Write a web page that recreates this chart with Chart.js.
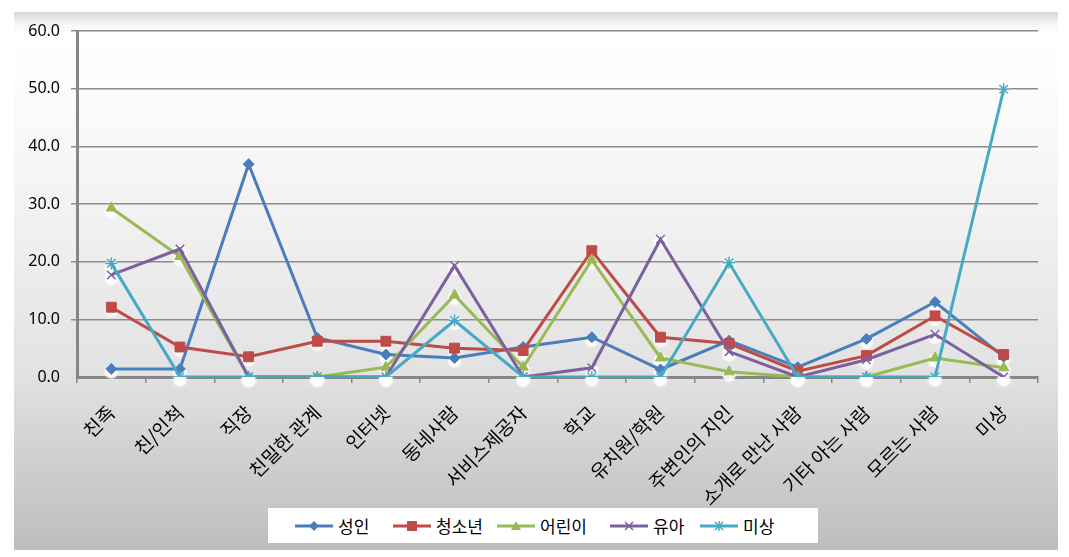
<!DOCTYPE html>
<html>
<head>
<meta charset="utf-8">
<script src="https://cdn.jsdelivr.net/npm/chart.js@4.4.0/dist/chart.umd.min.js"></script>
<style>
  html, body { margin: 0; padding: 0; background: #ffffff; }
  #wrap { position: relative; width: 1069px; height: 557px; overflow: hidden; }
  #panel { position: absolute; left: 14px; top: 12px; width: 1044px; height: 538px;
    background: linear-gradient(to bottom, #d8d8d8 0px, #f6f6f6 12px, #ffffff 22px, #fbfbfb 90px, #f0f0f0 220px, #e2e2e2 360px, #cfcfcf 450px, #bdbdbd 538px); }
  #c { position: absolute; left: 0; top: 0; }
  #legend { position: absolute; left: 268px; top: 508px; width: 550px; height: 35px; background: #ffffff;
    font-family: "Noto Sans CJK KR", sans-serif; font-size: 17px; color: #000; }
  .item { position: absolute; top: 0; height: 35px; display: flex; align-items: center; }
  .item svg { margin-right: 5px; }
</style>
</head>
<body>
<div id="wrap">
  <div id="panel"></div>
  <canvas id="c" width="1069" height="557"></canvas>
  <div id="legend"></div>
</div>
<script>
const categories = ["친족", "친/인척", "직장", "친밀한 관계", "인터넷", "동네사람", "서비스제공자", "학교", "유치원/학원", "주변인의 지인", "소개로 만난 사람", "기타 아는 사람", "모르는 사람", "미상"];
const seriesNames = ["성인", "청소년", "어린이", "유아", "미상"];
const adult   = [1.4, 1.4, 36.9, 6.8, 3.9, 3.3, 5.2, 6.9, 1.3, 6.3, 1.7, 6.6, 13.0, 3.5];
const youth   = [12.1, 5.2, 3.5, 6.2, 6.2, 5.0, 4.6, 21.9, 6.9, 5.8, 1.0, 3.7, 10.6, 3.9];
const child   = [29.3, 20.9, 0, 0, 1.7, 14.2, 1.7, 20.3, 3.3, 0.9, 0, 0, 3.3, 1.6];
const infant  = [17.7, 22.2, 0, 0, 0, 19.3, 0, 1.6, 23.9, 4.4, 0, 3.0, 7.4, 0];
const unknown = [19.7, 0, 0, 0, 0, 9.8, 0, 0, 0, 19.8, 0, 0, 0, 49.9];
const yTickValues = [0, 10, 20, 30, 40, 50, 60];

const colors = ["#4A7EBB", "#BE4B48", "#98B954", "#7D60A0", "#46AAC5"];
const styles = ["rectRot", "rect", "triangle", "crossRot", "star"];
const radii = [5.5, 7, 6, 6, 6];
const values = [adult, youth, child, infant, unknown];

const datasets = values.map((d, i) => ({
  label: seriesNames[i],
  data: d,
  borderColor: colors[i],
  backgroundColor: colors[i],
  pointBackgroundColor: colors[i],
  pointBorderColor: colors[i],
  pointStyle: styles[i],
  pointRadius: radii[i],
  pointBorderWidth: (i >= 3) ? 1.5 : 1,
  borderWidth: 3,
  tension: 0,
  order: 5 - i
}));

// soft white glow beneath markers (Excel marker shadow effect)
const markerGlow = {
  id: 'markerGlow',
  beforeDatasetsDraw(chart) {
    const ctx = chart.ctx;
    ctx.save();
    ctx.fillStyle = 'rgba(255,255,255,0.75)';
    ctx.shadowColor = 'rgba(255,255,255,0.9)';
    ctx.shadowBlur = 3;
    chart.data.datasets.forEach((ds, i) => {
      const meta = chart.getDatasetMeta(i);
      meta.data.forEach(pt => {
        ctx.beginPath();
        ctx.arc(pt.x, pt.y + 3, 6.5, 0, Math.PI * 2);
        ctx.fill();
      });
    });
    ctx.restore();
  }
};

new Chart(document.getElementById('c'), {
  type: 'line',
  data: { labels: categories, datasets },
  plugins: [markerGlow],
  options: {
    responsive: false,
    animation: false,
    events: [],
    layout: { padding: { left: 0, top: 31, right: 31, bottom: 0 } },
    plugins: { legend: { display: false }, tooltip: { enabled: false } },
    scales: {
      x: {
        offset: true,
        afterFit: s => { s.height = 180; },
        grid: { offset: true, drawOnChartArea: false, drawTicks: true, tickLength: 6, color: '#868686', lineWidth: 1.5 },
        border: { display: true, color: '#868686', width: 3 },
        ticks: { minRotation: 45, maxRotation: 45, autoSkip: false, padding: 18, color: '#000',
          font: { family: '"Noto Sans CJK KR", sans-serif', size: 19 } }
      },
      y: {
        min: 0, max: 60,
        afterFit: s => { s.width = 77; },
        afterBuildTicks: s => { s.ticks = yTickValues.map(v => ({ value: v })); },
        grid: { color: '#8c8c8c', lineWidth: c => (c.tick && c.tick.value === 0) ? 0 : 1.5, drawTicks: true, tickLength: 6 },
        border: { display: true, color: '#868686', width: 3 },
        ticks: { callback: v => Number(v).toFixed(1), color: '#000', padding: 11,
          font: { family: '"Noto Sans", sans-serif', size: 16 } }
      }
    }
  }
});

// HTML legend
const legend = document.getElementById('legend');
const lefts = [27, 125, 229, 342, 432];
function markerSvg(i) {
  const c = colors[i];
  let m = '';
  if (i === 0) m = `<polygon points="19,1 24,6 19,11 14,6" fill="${c}"/>`;
  else if (i === 1) m = `<rect x="14" y="1" width="10" height="10" fill="${c}"/>`;
  else if (i === 2) m = `<polygon points="19,1 24,10 14,10" fill="${c}"/>`;
  else if (i === 3) m = `<path d="M15 2 L23 10 M23 2 L15 10" stroke="${c}" stroke-width="1.5"/>`;
  else m = `<path d="M15 2 L23 10 M23 2 L15 10 M19 1 L19 11" stroke="${c}" stroke-width="1.5"/>`;
  return `<svg width="38" height="12" viewBox="0 0 38 12"><line x1="0" y1="6" x2="38" y2="6" stroke="${c}" stroke-width="3"/>${m}</svg>`;
}
seriesNames.forEach((n, i) => {
  const d = document.createElement('div');
  d.className = 'item';
  d.style.left = lefts[i] + 'px';
  d.innerHTML = markerSvg(i) + '<span>' + n + '</span>';
  legend.appendChild(d);
});
</script>
</body>
</html>
